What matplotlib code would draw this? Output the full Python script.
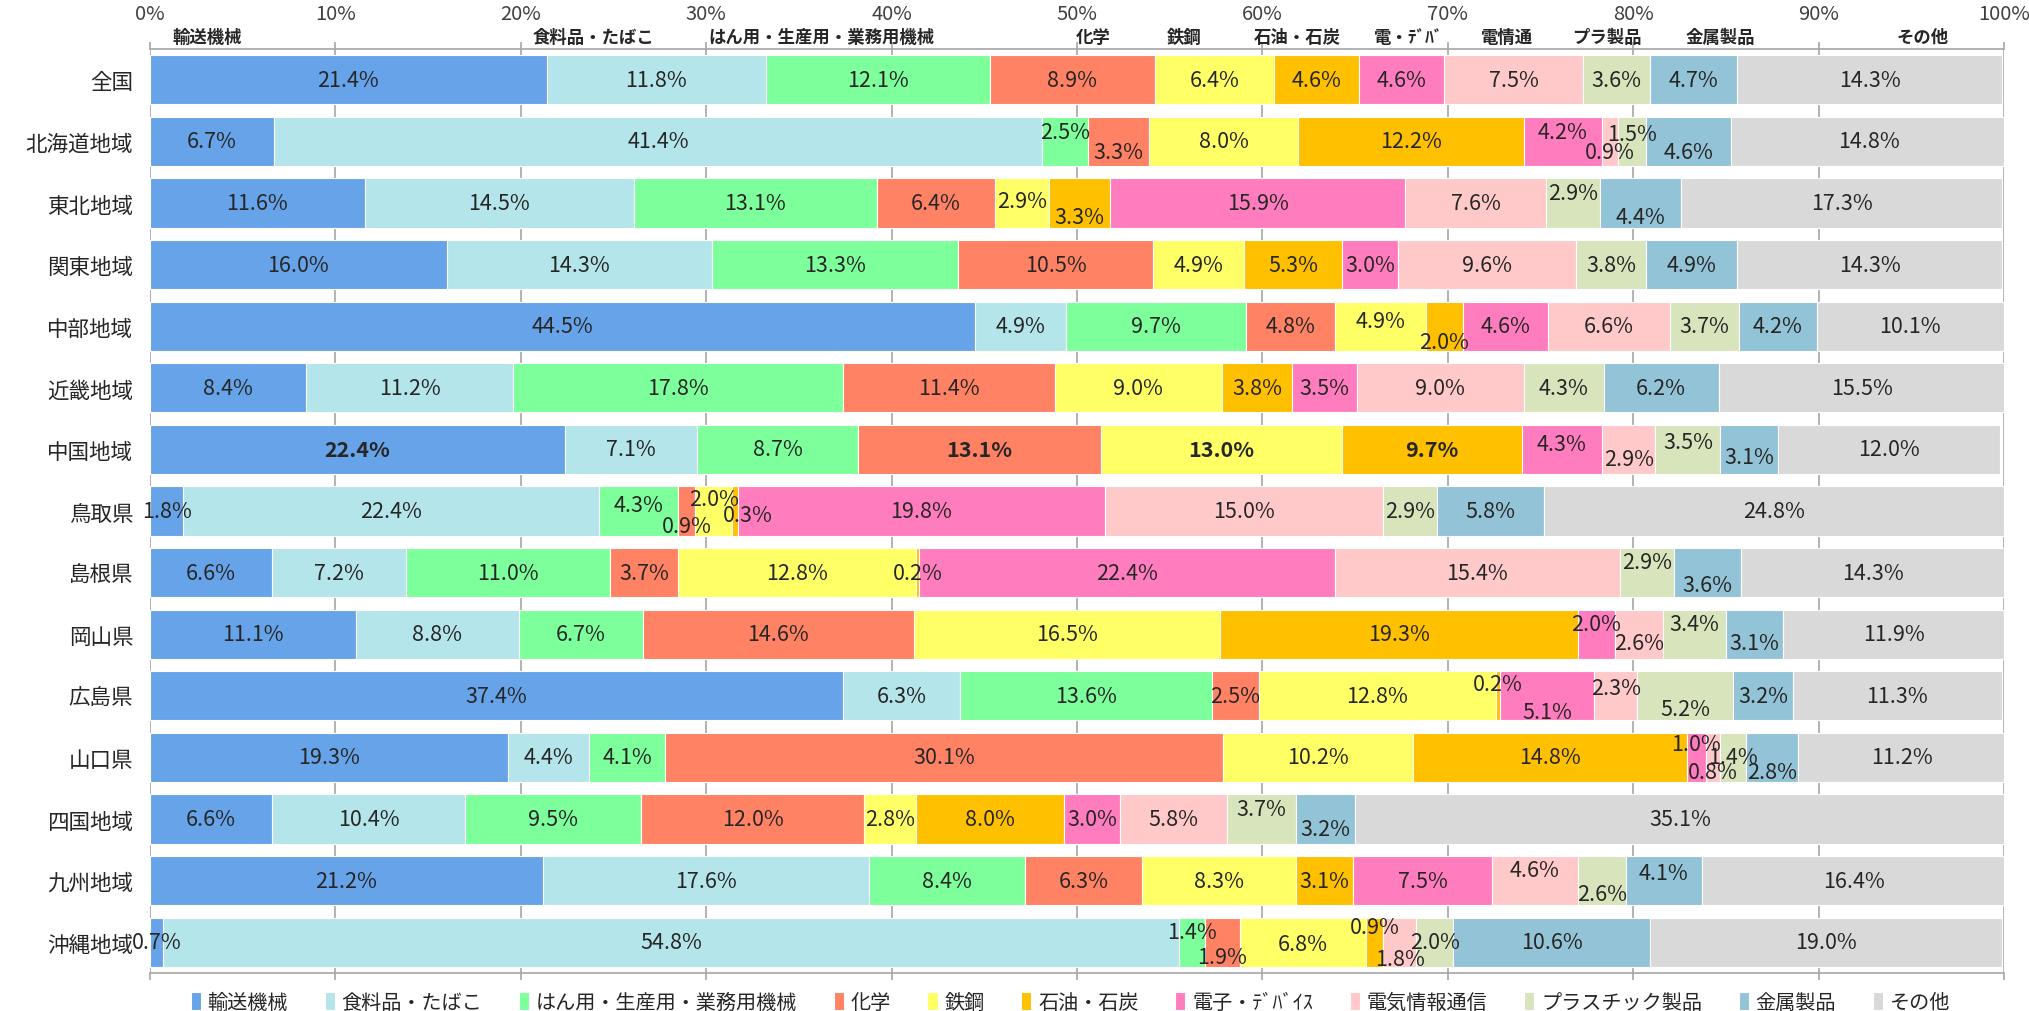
import matplotlib
matplotlib.use('Agg')
import matplotlib.pyplot as plt
import matplotlib.transforms as mtransforms
import numpy as np

plt.rcParams['font.family'] = ['Noto Sans CJK JP', 'DejaVu Sans']

regions = ['全国', '北海道地域', '東北地域', '関東地域', '中部地域', '近畿地域', '中国地域',
           '鳥取県', '島根県', '岡山県', '広島県', '山口県', '四国地域', '九州地域', '沖縄地域']
industries = ['輸送機械', '食料品・たばこ', 'はん用・生産用・業務用機械', '化学', '鉄鋼', '石油・石炭',
              '電子・ﾃﾞﾊﾞｲｽ', '電気情報通信', 'プラスチック製品', '金属製品', 'その他']
header_labels = ['輸送機械', '食料品・たばこ', 'はん用・生産用・業務用機械', '化学', '鉄鋼', '石油・石炭',
                 '電・ﾃﾞﾊﾞ', '電情通', 'プラ製品', '金属製品', 'その他']
tick_values = [0, 10, 20, 30, 40, 50, 60, 70, 80, 90, 100]

transport  = [21.4, 6.7, 11.6, 16.0, 44.5, 8.4, 22.4, 1.8, 6.6, 11.1, 37.4, 19.3, 6.6, 21.2, 0.7]
food       = [11.8, 41.4, 14.5, 14.3, 4.9, 11.2, 7.1, 22.4, 7.2, 8.8, 6.3, 4.4, 10.4, 17.6, 54.8]
machinery  = [12.1, 2.5, 13.1, 13.3, 9.7, 17.8, 8.7, 4.3, 11.0, 6.7, 13.6, 4.1, 9.5, 8.4, 1.4]
chemical   = [8.9, 3.3, 6.4, 10.5, 4.8, 11.4, 13.1, 0.9, 3.7, 14.6, 2.5, 30.1, 12.0, 6.3, 1.9]
steel      = [6.4, 8.0, 2.9, 4.9, 4.9, 9.0, 13.0, 2.0, 12.8, 16.5, 12.8, 10.2, 2.8, 8.3, 6.8]
petroleum  = [4.6, 12.2, 3.3, 5.3, 2.0, 3.8, 9.7, 0.3, 0.2, 19.3, 0.2, 14.8, 8.0, 3.1, 0.9]
electronic = [4.6, 4.2, 15.9, 3.0, 4.6, 3.5, 4.3, 19.8, 22.4, 2.0, 5.1, 1.0, 3.0, 7.5, 0.0]
electrical = [7.5, 0.9, 7.6, 9.6, 6.6, 9.0, 2.9, 15.0, 15.4, 2.6, 2.3, 0.8, 5.8, 4.6, 1.8]
plastic    = [3.6, 1.5, 2.9, 3.8, 3.7, 4.3, 3.5, 2.9, 2.9, 3.4, 5.2, 1.4, 3.7, 2.6, 2.0]
metal      = [4.7, 4.6, 4.4, 4.9, 4.2, 6.2, 3.1, 5.8, 3.6, 3.1, 3.2, 2.8, 3.2, 4.1, 10.6]
other      = [14.3, 14.8, 17.3, 14.3, 10.1, 15.5, 12.0, 24.8, 14.3, 11.9, 11.3, 11.2, 35.1, 16.4, 19.0]

series = [transport, food, machinery, chemical, steel, petroleum,
          electronic, electrical, plastic, metal, other]

# --- styling (positions / colours) ---
colors = ['#66A3E8', '#B4E5EB', '#7DFF9B', '#FF8264', '#FFFF66', '#FFC000',
          '#FF7DBE', '#FFC9C9', '#D8E4BC', '#93C3D6', '#D9D9D9']
header_pos = [3.1, 23.9, 36.2, 50.9, 55.8, 61.9, 67.9, 73.2, 78.6, 84.7, 95.6]
bold_labels = {(6, 0), (6, 3), (6, 4), (6, 5)}
label_dy = {
    (1, 2): -0.16, (1, 3): 0.17, (1, 6): -0.16, (1, 7): 0.17, (1, 8): -0.12, (1, 9): 0.17,
    (2, 4): -0.03, (2, 5): 0.22, (2, 8): -0.16, (2, 9): 0.22,
    (4, 4): -0.08, (4, 5): 0.26,
    (6, 6): -0.09, (6, 7): 0.15, (6, 8): -0.12, (6, 9): 0.12,
    (7, 2): -0.09, (7, 3): 0.25, (7, 4): -0.19, (7, 5): 0.06,
    (8, 8): -0.18, (8, 9): 0.2,
    (9, 6): -0.17, (9, 7): 0.14, (9, 8): -0.17, (9, 9): 0.14,
    (10, 5): -0.2, (10, 6): 0.26, (10, 7): -0.13, (10, 8): 0.21,
    (11, 6): -0.22, (11, 7): 0.24, (11, 9): 0.24,
    (12, 8): -0.16, (12, 9): 0.16,
    (13, 7): -0.18, (13, 8): 0.22, (13, 9): -0.13,
    (14, 2): -0.16, (14, 3): 0.24, (14, 4): 0.03, (14, 5): -0.24, (14, 7): 0.27,
}
label_dx = {(7, 5): 0.7}

fig = plt.figure(figsize=(20.29, 10.12), dpi=100)
ax = fig.add_axes([0.0739, 0.0375, 0.9138, 0.9131])

y = np.arange(len(regions))
left = np.zeros(len(regions))
for j, (vals, col, name) in enumerate(zip(series, colors, industries)):
    vals = np.array(vals)
    ax.barh(y, vals, left=left, height=0.8, color=col, edgecolor='white',
            linewidth=0.8, label=name, zorder=2)
    for i, v in enumerate(vals):
        if v <= 0:
            continue
        cx = left[i] + v / 2 + label_dx.get((i, j), 0)
        cy = y[i] + label_dy.get((i, j), 0)
        ax.text(cx, cy, f'{v:.1f}%', ha='center', va='center', fontsize=15.5,
                color='#262626',
                fontweight='bold' if (i, j) in bold_labels else 'normal', zorder=4)
    left += vals

ax.set_xlim(0, 100)
ax.set_ylim(len(regions) - 0.5, -0.5)
ax.set_yticks(y)
ax.set_yticklabels(regions, fontsize=15.5, color='#262626')
ax.tick_params(axis='y', length=0, pad=12)
ax.set_xticks(tick_values)
ax.set_xticklabels([f'{t}%' for t in tick_values], fontsize=14.5, color='#404040')
ax.tick_params(axis='x', top=True, labeltop=True, bottom=True, labelbottom=False,
               direction='out', length=5, pad=13, color='#A6A6A6', width=1.2)
ax.grid(axis='x', color='#A6A6A6', linewidth=1.2, zorder=0)
ax.set_axisbelow(True)
for s in ['left', 'right']:
    ax.spines[s].set_visible(False)
for s in ['top', 'bottom']:
    ax.spines[s].set_color('#A6A6A6')
    ax.spines[s].set_linewidth(1.2)

trans = mtransforms.blended_transform_factory(ax.transData, ax.transAxes)
for xp, lab in zip(header_pos, header_labels):
    ax.text(xp, 1.003, lab, transform=trans, ha='center', va='bottom',
            fontsize=12.5, fontweight='bold', color='#262626')

handles, labels = ax.get_legend_handles_labels()
fig.legend(handles, labels, loc='lower left', bbox_to_anchor=(0.085, -0.02, 0.885, 0.05),
           mode='expand', ncol=11, frameon=False, fontsize=14.5, handlelength=0.5,
           handleheight=1.0, handletextpad=0.35, columnspacing=1.0, labelcolor='#262626')

fig.savefig('out.png', dpi=100)
